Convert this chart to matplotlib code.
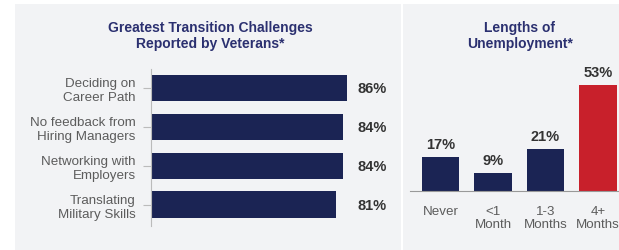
import matplotlib
matplotlib.use("Agg")
import matplotlib.pyplot as plt
from matplotlib.patches import Rectangle

plt.rcParams['font.family'] = ['Liberation Sans', 'DejaVu Sans']

# Data
challenges = ["Deciding on\nCareer Path", "No feedback from\nHiring Managers",
              "Networking with\nEmployers", "Translating\nMilitary Skills"]
challenge_pct = [86, 84, 84, 81]

lengths = ["Never", "<1\nMonth", "1-3\nMonths", "4+\nMonths"]
length_pct = [17, 9, 21, 53]

NAVY = "#1b2454"
RED = "#c8202b"
TITLE = "#2b3070"
LABEL = "#5c5c5c"
VALUE = "#333333"
PANEL = "#f2f3f5"

W, H = 619, 251
fig = plt.figure(figsize=(W / 100, H / 100), dpi=100, facecolor="white")

def px(x0, y0, w, h):
    return [x0 / W, 1 - (y0 + h) / H, w / W, h / H]

# panels
fig.patches.append(Rectangle((15 / W, 0), (401 - 15) / W, 1 - 5 / H,
                             transform=fig.transFigure, facecolor=PANEL,
                             edgecolor="none", zorder=-10))
fig.patches.append(Rectangle((403 / W, 0), (W - 403) / W, 1 - 5 / H,
                             transform=fig.transFigure, facecolor=PANEL,
                             edgecolor="none", zorder=-10))

# Left chart
ax1 = fig.add_axes(px(151, 70, 228, 157))
ax1.set_facecolor("none")
ypos = list(range(len(challenges)))
ax1.barh(ypos, challenge_pct, height=0.69, color=NAVY)
ax1.set_xlim(0, 100)
ax1.set_ylim(3.54, -0.487)
ax1.set_yticks(ypos)
ax1.set_yticklabels(challenges, fontsize=9.6, color=LABEL, linespacing=1.12)
ax1.tick_params(axis="y", length=6, color="#bbbbbb", pad=5, width=0.8)
ax1.set_xticks([])
for s in ["top", "right", "bottom"]:
    ax1.spines[s].set_visible(False)
ax1.spines["left"].set_color("#bbbbbb")
ax1.spines["left"].set_linewidth(0.8)
for y, v in zip(ypos, challenge_pct):
    ax1.text((358 - 151) / 228, y, f"{v}%", transform=ax1.get_yaxis_transform(),
             fontsize=10.5, fontweight="bold", color=VALUE, va="center", ha="left")

fig.text(210 / W, 1 - 36 / H, "Greatest Transition Challenges\nReported by Veterans*",
         ha="center", va="center", fontsize=10, fontweight="bold", color=TITLE,
         linespacing=1.1)

# Right chart
ax2 = fig.add_axes(px(410, 60, 209, 132))
ax2.set_facecolor("none")
xpos = list(range(len(lengths)))
colors = [NAVY, NAVY, NAVY, RED]
ax2.bar(xpos, length_pct, width=0.705, color=colors)
ax2.set_xlim(-0.581, 3.4)
ax2.set_ylim(0, 66)
ax2.set_xticks(xpos)
ax2.set_xticklabels(lengths, fontsize=9.6, color=LABEL, linespacing=1.1, va="top")
ax2.tick_params(axis="x", length=0, pad=10)
ax2.set_yticks([])
for s in ["top", "right", "left"]:
    ax2.spines[s].set_visible(False)
ax2.spines["bottom"].set_color("#999999")
ax2.spines["bottom"].set_linewidth(0.8)
for x, v in zip(xpos, length_pct):
    ax2.annotate(f"{v}%", (x, v), xytext=(0, 4), textcoords="offset points",
                 ha="center", va="bottom", fontsize=10.5, fontweight="bold",
                 color=VALUE)

fig.text(520 / W, 1 - 36 / H, "Lengths of\nUnemployment*",
         ha="center", va="center", fontsize=10, fontweight="bold", color=TITLE,
         linespacing=1.1)

fig.savefig("out.png", dpi=100, facecolor="white")
